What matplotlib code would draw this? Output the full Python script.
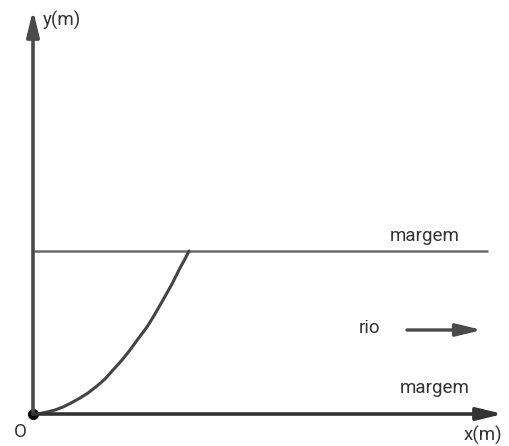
import matplotlib
matplotlib.use("Agg")
import matplotlib.pyplot as plt

# curve (units roughly = pixels from origin)
curve_x = [0, 7, 14, 22, 30, 38, 47, 55, 64, 72, 80, 89, 97, 105, 114,
           122, 130, 139, 147, 152, 156]
curve_y = [0, 0.5, 2, 4, 7, 11, 16, 21, 28, 35, 44, 54, 64, 75, 87,
           100, 114, 130, 146, 155, 163]

margin_y = 163
margin_end = 455
x_axis_end = 470
y_axis_end = 404
river_arrow_x = [374, 449]
river_arrow_y = 84

labels = {
    "y": "y(m)",
    "x": "x(m)",
    "origin": "O",
    "margin": "margem",
    "river": "rio",
}

plt.rcParams["font.family"] = ["Roboto", "DejaVu Sans"]

fig = plt.figure(figsize=(5.09, 4.46), dpi=100)
ax = fig.add_axes([0, 0, 1, 1])
ax.set_xlim(-33, 476)
ax.set_ylim(-32, 414)
ax.axis("off")

axis_color = "#4a4a4a"
head = "-|>,head_length=0.7,head_width=0.17"

# axes with arrows
ax.annotate("", xy=(0, y_axis_end), xytext=(0, 0),
            arrowprops=dict(arrowstyle=head, color=axis_color, lw=2.6,
                            mutation_scale=22, shrinkA=0, shrinkB=0))
ax.annotate("", xy=(x_axis_end, 0), xytext=(0, 0),
            arrowprops=dict(arrowstyle=head, color="#333333", lw=2.6,
                            mutation_scale=22, shrinkA=0, shrinkB=0))

# upper bank
ax.plot([0, margin_end], [margin_y, margin_y], color="#6a6a6a", lw=1.8,
        solid_capstyle="butt")

# trajectory
ax.plot(curve_x, curve_y, color="#444444", lw=2.2, solid_capstyle="round",
        solid_joinstyle="round")
ax.plot([0], [0], "o", color="black", ms=7)

# river direction arrow
ax.annotate("", xy=(river_arrow_x[1], river_arrow_y),
            xytext=(river_arrow_x[0], river_arrow_y),
            arrowprops=dict(arrowstyle=head, color="#4a4a4a", lw=2.4,
                            mutation_scale=22, shrinkA=0, shrinkB=0))

fs = 13.5
tc = "#333333"
ax.text(10, 394, labels["y"], fontsize=fs, color=tc, va="center", ha="left")
ax.text(469, -21, labels["x"], fontsize=fs, color=tc, va="center", ha="right")
ax.text(-13, -18, labels["origin"], fontsize=fs, color=tc, va="center", ha="center")
ax.text(392, 178, labels["margin"], fontsize=fs, color=tc, va="center", ha="center")
ax.text(402, 26, labels["margin"], fontsize=fs, color=tc, va="center", ha="center")
ax.text(337, 86, labels["river"], fontsize=fs, color=tc, va="center", ha="center")

fig.savefig("out.png", dpi=100)
